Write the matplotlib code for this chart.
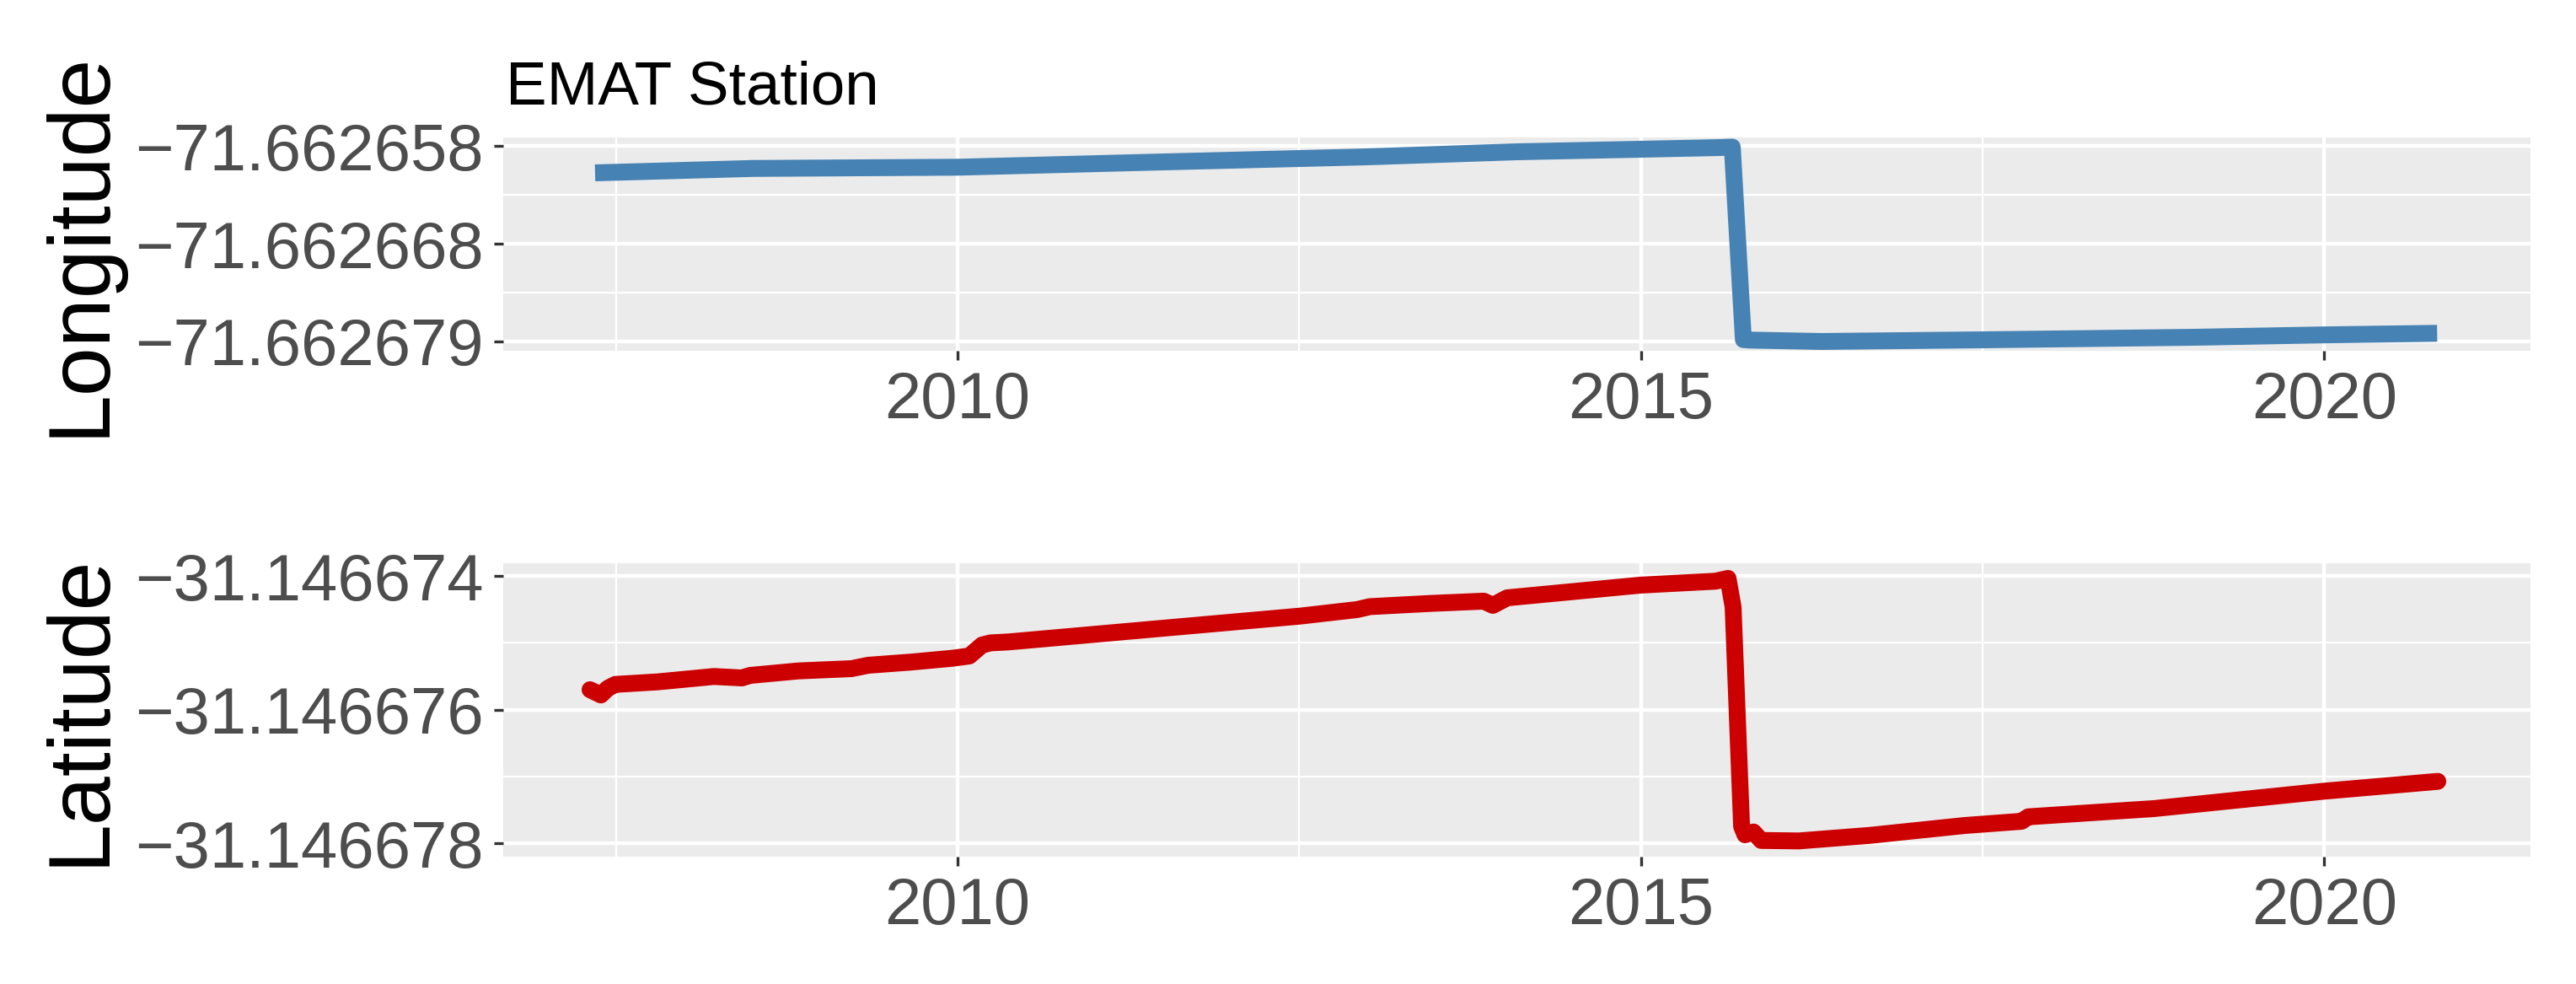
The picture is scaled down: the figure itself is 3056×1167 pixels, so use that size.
import numpy as np
import matplotlib.pyplot as plt
from matplotlib.ticker import FixedLocator, FixedFormatter

plt.rcParams['font.family'] = ['Liberation Sans', 'DejaVu Sans']

# Longitude series (decimal year, degrees)
lon_years = [2007.347, 2008.5, 2010.0, 2011.5, 2013.0, 2014.096, 2015.0, 2015.577,
             2015.669, 2015.750, 2015.799, 2016.321, 2017.508, 2019.038, 2020.003, 2020.827]
lon_vals = [-71.662660873, -71.662660400, -71.662660266, -71.662659700, -71.662659150,
            -71.662658607, -71.662658335, -71.662658154,
            -71.662658100, -71.662678800, -71.662678850, -71.662679000, -71.662678820,
            -71.662678550, -71.662678290, -71.662678120]

# Latitude series (decimal year, degrees)
lat_years = [2007.310, 2007.390, 2007.440, 2007.495, 2007.804, 2008.217, 2008.421, 2008.482,
             2008.834, 2009.223, 2009.346, 2009.655, 2009.963, 2010.086, 2010.179, 2010.241,
             2010.376, 2012.505, 2012.924, 2013.017, 2013.461, 2013.850, 2013.917, 2014.022,
             2014.997, 2015.546, 2015.638, 2015.675, 2015.737, 2015.762, 2015.824, 2015.880,
             2016.157, 2016.675, 2017.370, 2017.786, 2017.835, 2018.754, 2019.099, 2020.000,
             2020.832]
lat_vals = [-31.146675701, -31.146675780, -31.146675680, -31.146675622, -31.146675584,
            -31.146675503, -31.146675525, -31.146675487, -31.146675420, -31.146675386,
            -31.146675335, -31.146675288, -31.146675230, -31.146675196, -31.146675032,
            -31.146675000, -31.146674985, -31.146674599, -31.146674501, -31.146674457,
            -31.146674409, -31.146674375, -31.146674438, -31.146674325, -31.146674135,
            -31.146674076, -31.146674034, -31.146674464, -31.146677748, -31.146677874,
            -31.146677832, -31.146677959, -31.146677966, -31.146677883, -31.146677735,
            -31.146677672, -31.146677605, -31.146677482, -31.146677410, -31.146677221,
            -31.146677074]

x_major = [2010, 2015, 2020]
x_minor = [2007.5, 2012.5, 2017.5]
lon_ticks = [-71.662658, -71.6626685, -71.662679]
lon_labels = ['\u221271.662658', '\u221271.662668', '\u221271.662679']
lat_ticks = [-31.146674, -31.146676, -31.146678]
lat_labels = ['\u221231.146674', '\u221231.146676', '\u221231.146678']

W, H = 3056, 1167
fig = plt.figure(figsize=(W / 300, H / 300), dpi=300)

left = 597 / W
width = (3002 - 597) / W
ax1 = fig.add_axes([left, 1 - 416 / H, width, 253 / H])
ax2 = fig.add_axes([left, 1 - 1016 / H, width, (1016 - 668.3) / H])


def style(ax, yticks, ylabels, ylim):
    ax.set_facecolor('#EBEBEB')
    for s in ax.spines.values():
        s.set_visible(False)
    ax.set_xlim(2006.675, 2021.51)
    ax.set_ylim(*ylim)
    ax.xaxis.set_major_locator(FixedLocator(x_major))
    ax.xaxis.set_minor_locator(FixedLocator(x_minor))
    ax.set_xticklabels([str(v) for v in x_major])
    ax.yaxis.set_major_locator(FixedLocator(yticks))
    ax.yaxis.set_major_formatter(FixedFormatter(ylabels))
    mids = [(yticks[0] + yticks[1]) / 2, (yticks[1] + yticks[2]) / 2]
    ax.yaxis.set_minor_locator(FixedLocator(mids))
    ax.grid(which='major', color='white', linewidth=1.07)
    ax.grid(which='minor', color='white', linewidth=0.53)
    ax.set_axisbelow(True)
    ax.tick_params(which='major', length=2.64, width=0.8, color='#333333',
                   labelsize=18.7, labelcolor='#4D4D4D', pad=2.9)
    ax.tick_params(which='minor', length=0)


style(ax1, lon_ticks, lon_labels, (-71.662679998, -71.662657066))
style(ax2, lat_ticks, lat_labels, (-31.146678202, -31.146673811))

ax1.plot(lon_years, lon_vals, color='#4682B4', linewidth=4.8,
         solid_joinstyle='round', solid_capstyle='butt')
ax2.plot(lat_years, lat_vals, color='#CC0000', linewidth=4.8,
         solid_joinstyle='round', solid_capstyle='round')

fig.text(600 / W, 1 - 124 / H, 'EMAT Station', fontsize=17.5, color='black',
         ha='left', va='baseline')
fig.text(123 / W, 1 - 289.5 / H, 'Longitude', fontsize=25, rotation=90,
         rotation_mode='anchor', ha='center', va='baseline')
fig.text(123 / W, 1 - 842 / H, 'Latitude', fontsize=25, rotation=90,
         rotation_mode='anchor', ha='center', va='baseline')

fig.savefig('out.png', dpi=300)
